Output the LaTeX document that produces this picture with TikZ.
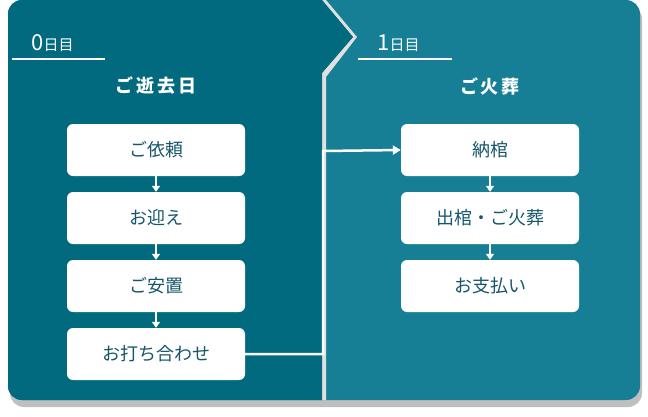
\documentclass[tikz,border=0pt]{standalone}
\usepackage{fontspec}
\setmainfont{Noto Sans CJK JP}
\usetikzlibrary{arrows.meta}
\definecolor{leftc}{HTML}{016A7E}
\definecolor{rightc}{HTML}{167F96}
\definecolor{txt}{HTML}{17566A}
\tikzset{
 stepbox/.style={fill=white,rounded corners=6pt,minimum width=178pt,minimum height=52pt,text=txt,font=\fontsize{18}{20}\selectfont,inner sep=0pt},
 flow/.style={white,line width=2.5pt,-{Triangle[length=8pt,width=9pt]}},
 hdr/.style={text=white,font=\bfseries\fontsize{18}{20}\selectfont},
 day/.style={text=white,font=\fontsize{15}{18}\selectfont,anchor=base west}
}
\begin{document}
\begin{tikzpicture}[x=1pt,y=-1pt]
\useasboundingbox (0,0) rectangle (648,416);
\fill[black!25,rounded corners=14pt] (10,5) rectangle (642,407);
\fill[rightc,rounded corners=14pt] (8,0) rectangle (640,400);
\begin{scope}
\clip[rounded corners=14pt] (8,0) rectangle (640,400);
\fill[black!12] (326,0) -- (357,37) -- (326,77) -- (326,400) -- (322,400) -- (322,73) -- (353,37) -- (322,0) -- cycle;
\fill[leftc] (0,0) -- (322,0) -- (353,37) -- (322,73) -- (322,400) -- (0,400) -- cycle;
\end{scope}
\node[day] (d0) at (28,50) {\fontsize{22}{24}\selectfont 0\fontsize{15}{18}\selectfont 日目};
\draw[white,line width=2pt] (12,59) -- (105,59);
\node[day] (d1) at (374,50) {\fontsize{22}{24}\selectfont 1\fontsize{15}{18}\selectfont 日目};
\draw[white,line width=2pt] (358,59) -- (452,59);
\node[hdr] (h0) at (156,86) {ご\,逝\,去\,日};
\node[hdr] (h1) at (490,86) {ご\,火\,葬};
\node[stepbox] (a1) at (156,150) {ご依頼};
\node[stepbox] (a2) at (156,218) {お迎え};
\node[stepbox] (a3) at (156,286) {ご安置};
\node[stepbox] (a4) at (156,354) {お打ち合わせ};
\node[stepbox] (b1) at (490,150) {納棺};
\node[stepbox] (b2) at (490,218) {出棺・ご火葬};
\node[stepbox] (b3) at (490,286) {お支払い};
\tikzset{tip/.style={white,line width=1.5pt,-{Triangle[length=6pt,width=8pt]}}}
\draw[tip] (a1) -- (a2);
\draw[tip] (a2) -- (a3);
\draw[tip] (a3) -- (a4);
\draw[tip] (b1) -- (b2);
\draw[tip] (b2) -- (b3);
\draw[flow] (a4.east) -- (323,354) -- (323,151) -- (b1.west);
\end{tikzpicture}
\end{document}
